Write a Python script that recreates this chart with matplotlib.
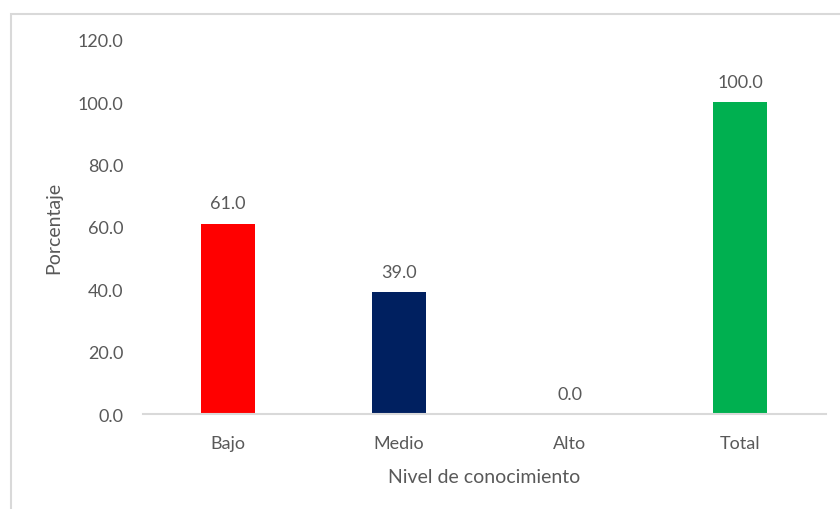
import matplotlib.pyplot as plt
from matplotlib.patches import Rectangle

categorias = ["Bajo", "Medio", "Alto", "Total"]
porcentajes = [61.0, 39.0, 0.0, 100.0]
colores = ["#ff0000", "#002060", "#7f7f7f", "#00b050"]

plt.rcParams['font.family'] = ['Lato', 'DejaVu Sans']
gris = "#595959"

fig = plt.figure(figsize=(8.4, 5.1), dpi=100)
ax = fig.add_axes([0.170, 0.186, 0.813, 0.734])

# marco del grafico
fig.patches.append(Rectangle((11/840, -0.05), 1.0, 1 - 15/510 + 0.05,
                             transform=fig.transFigure, fill=False,
                             edgecolor="#d9d9d9", linewidth=1.5))

x = range(len(categorias))
barras = ax.bar(x, porcentajes, width=0.316, color=colores)
for xi, v in zip(x, porcentajes):
    ax.text(xi, v + 4, f"{v:.1f}", ha="center", va="bottom",
            fontsize=13, color=gris)

ax.set_xlim(-0.5, 3.5)
ax.set_ylim(0, 120)
ax.set_yticks(range(0, 121, 20))
ax.set_yticklabels([f"{t:.1f}" for t in range(0, 121, 20)])
ax.set_xticks(list(x))
ax.set_xticklabels(categorias)
ax.tick_params(axis="both", length=0, labelsize=13, colors=gris)
ax.tick_params(axis="y", pad=14)
ax.tick_params(axis="x", pad=15)

for s in ["top", "right", "left"]:
    ax.spines[s].set_visible(False)
ax.spines["bottom"].set_color("#d9d9d9")
ax.spines["bottom"].set_linewidth(1.5)

ax.set_xlabel("Nivel de conocimiento", fontsize=14, color=gris, labelpad=12)
ax.set_ylabel("Porcentaje", fontsize=14, color=gris, labelpad=11)

fig.savefig("out.png", dpi=100)
